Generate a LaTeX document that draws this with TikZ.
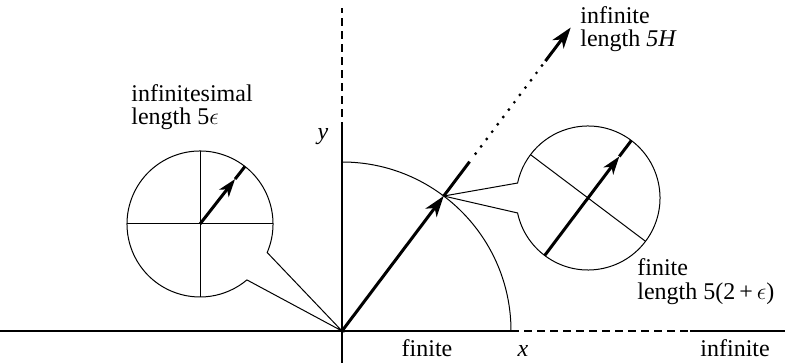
\documentclass[tikz,border=0pt]{standalone}
\usepackage{fontspec}
\setmainfont{Liberation Serif}
\usetikzlibrary{arrows.meta,calc}
\begin{document}
\begin{tikzpicture}[x=0.5pt,y=0.5pt,
  thinline/.style={line width=0.5pt},
  axisline/.style={line width=0.7pt},
  vec/.style={line width=1.5pt},
  vectip/.style={-{Stealth[length=10.5pt,width=7pt,inset=3pt]}},
  smalltip/.style={-{Stealth[length=9pt,width=6pt,inset=2.5pt]}},
  dashaxis/.style={axisline,dash pattern=on 4pt off 2.5pt},
  dotted line/.style={line width=1.6pt,line cap=round,dash pattern=on 0pt off 4.6pt},
  lbl/.style={inner sep=0pt,anchor=base west,font=\fontsize{12}{12}\selectfont},
  lblc/.style={inner sep=0pt,anchor=base,font=\fontsize{12}{12}\selectfont},
]
\useasboundingbox (0,0) rectangle (785,363);

% key points
\coordinate (O) at (342,32);
\coordinate (C1) at (200,139);
\coordinate (C2) at (588,165);
\coordinate (P) at ($(O)+(53:169)$);
\coordinate (S) at ($(O)+(53:212)$);
\coordinate (D) at ($(O)+(53:334)$);
\coordinate (T) at ($(O)+(53:380)$);

% axes
\coordinate (xl) at (0,32);
\coordinate (xa) at (511,32);
\coordinate (xb) at (690,32);
\coordinate (xr) at (785,32);
\coordinate (yb) at (342,0);
\coordinate (ya) at (342,233);
\coordinate (yt) at (342,355);
\draw[axisline] (xl) -- (xa);
\draw[dashaxis] (xa) -- (xb);
\draw[axisline] (xb) -- (xr);
\draw[axisline] (yb) -- (ya);
\draw[dashaxis] (ya) -- (yt);

% quarter circle
\draw[thinline] (xa) arc[start angle=0,end angle=90,radius=169];

% main vector
\draw[vec,vectip] (O) -- (P);
\draw[vec] (P) -- (S);
\draw[dotted line] ($(S)+(53:10)$) -- (D);
\draw[vec,vectip] ($(O)+(53:338)$) -- (T);

% left bubble
\draw[thinline] ($(C1)+(-23:73)$) arc[start angle=-23,end angle=310,radius=73] -- (O) -- cycle;
\draw[thinline] ($(C1)+(180:73)$) -- ($(C1)+(0:73)$);
\draw[thinline] ($(C1)+(90:73)$) -- ($(C1)+(270:73)$);
\coordinate (A1) at ($(C1)+(52:57)$);
\draw[vec,smalltip] (C1) -- (A1);
\draw[vec] (A1) -- ($(C1)+(52:73)$);

% right bubble
\draw[thinline] ($(C2)+(192:72)$) arc[start angle=192,end angle=528,radius=72] -- (P) -- cycle;
\draw[thinline] ($(C2)+(143:72)$) -- ($(C2)+(-37:72)$);
\coordinate (A2) at ($(C2)+(53:52)$);
\draw[vec,smalltip] ($(C2)+(233:72)$) -- (A2);
\draw[vec] (A2) -- ($(C2)+(53:72)$);

% labels
\node[lbl] (l1a) at (131,261) {infinitesimal};
\node[lbl] (l1b) at (131,238) {length 5$\epsilon$};
\node[lblc] (ly) at (323,223) {\textit{y}};
\node[lbl] (l2a) at (580,339) {infinite};
\node[lbl] (l2b) at (580,316) {length \textit{5H}};
\node[lbl] (l3a) at (637,87) {finite};
\node[lbl] (l3b) at (637,63) {length 5(2\,+\,$\epsilon$)};
\node[lblc] (l4) at (427,6) {finite};
\node[lblc] (lx) at (523,6) {\textit{x}};
\node[lbl] (l5) at (700,6) {infinite};
\end{tikzpicture}
\end{document}
